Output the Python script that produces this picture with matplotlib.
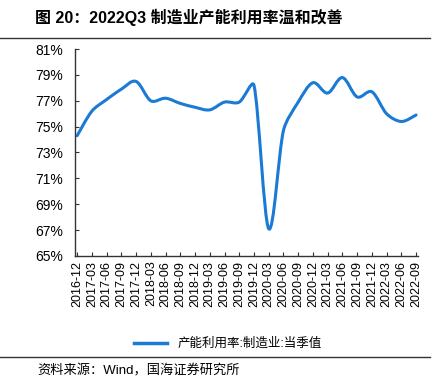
import matplotlib
matplotlib.use("Agg")
import matplotlib.pyplot as plt
import numpy as np
from matplotlib.path import Path
from matplotlib.patches import PathPatch
from matplotlib.lines import Line2D

plt.rcParams['font.family'] = ['Liberation Sans', 'Noto Sans CJK SC', 'DejaVu Sans']

quarters = ['2016-12', '2017-03', '2017-06', '2017-09', '2017-12', '2018-03',
            '2018-06', '2018-09', '2018-12', '2019-03', '2019-06', '2019-09',
            '2019-12', '2020-03', '2020-06', '2020-09', '2020-12', '2021-03',
            '2021-06', '2021-09', '2021-12', '2022-03', '2022-06', '2022-09']
utilization = [74.3, 76.2, 77.1, 77.9, 78.5, 77.0, 77.2, 76.8, 76.5, 76.3,
               76.9, 76.9, 78.2, 67.1, 74.7, 76.9, 78.4, 77.6, 78.8, 77.3,
               77.7, 76.0, 75.4, 75.9]
yticks = [65, 67, 69, 71, 73, 75, 77, 79, 81]

title = '图 20：2022Q3 制造业产能利用率温和改善'
series_name = '产能利用率:制造业:当季值'
source = '资料来源：Wind，国海证券研究所'
blue = '#1a7ad4'

fig = plt.figure(figsize=(4.42, 3.9), dpi=100)
ax = fig.add_axes([0.17, 0.344, 0.776, 0.53])
ax.set_xlim(-0.136, len(quarters) - 1 + 0.14)
ax.set_ylim(65, 81)

# smoothed line like a spreadsheet "smooth line": Bezier segments whose
# handles are capped by the neighbouring segment length (in display space)
x = np.arange(len(utilization), dtype=float)
pts = ax.transData.transform(np.column_stack([x, utilization]))
n = len(pts)
verts = [pts[0]]
codes = [Path.MOVETO]
tang = []
for i in range(n):
    a = pts[max(i - 1, 0)]
    b = pts[min(i + 1, n - 1)]
    tang.append((b - a) / 6)
for i in range(n - 1):
    p1, p2 = pts[i], pts[i + 1]
    d = np.hypot(*(p2 - p1))
    t1, t2 = tang[i], tang[i + 1]
    s1 = min(1, d / 3 / max(np.hypot(*t1), 1e-9))
    s2 = min(1, d / 3 / max(np.hypot(*t2), 1e-9))
    verts += [p1 + t1 * s1, p2 - t2 * s2, p2]
    codes += [Path.CURVE4] * 3
verts = ax.transData.inverted().transform(np.array(verts))
ax.add_patch(PathPatch(Path(verts, codes), fill=False, edgecolor=blue,
                       lw=2.2, capstyle='round', joinstyle='round'))

ax.set_yticks(yticks)
ax.set_yticklabels([f'{v}%' for v in yticks], fontsize=10)
ax.set_xticks(x)
ax.set_xticklabels(quarters, rotation=90, fontsize=9)
ax.tick_params(axis='both', direction='in', length=3, color='#333333')
ax.tick_params(axis='y', pad=9)
for s in ['top', 'right']:
    ax.spines[s].set_visible(False)
for s in ['left', 'bottom']:
    ax.spines[s].set_color('#333333')
    ax.spines[s].set_linewidth(1.0)

fig.text(0.08, 0.955, title, fontsize=11.5, fontweight='bold', va='center')
fig.add_artist(Line2D([0.0, 0.973], [0.903, 0.903], color='#333333', lw=1))
fig.add_artist(Line2D([0.0, 0.973], [0.085, 0.085], color='#333333', lw=1))

fig.legend([Line2D([], [], color=blue, lw=2.5)], [series_name],
           loc='center', bbox_to_anchor=(0.515, 0.118), frameon=False,
           fontsize=9, handlelength=2.7)
fig.text(0.085, 0.05, source, fontsize=9.5, va='center')

fig.savefig('out.png', dpi=100)
